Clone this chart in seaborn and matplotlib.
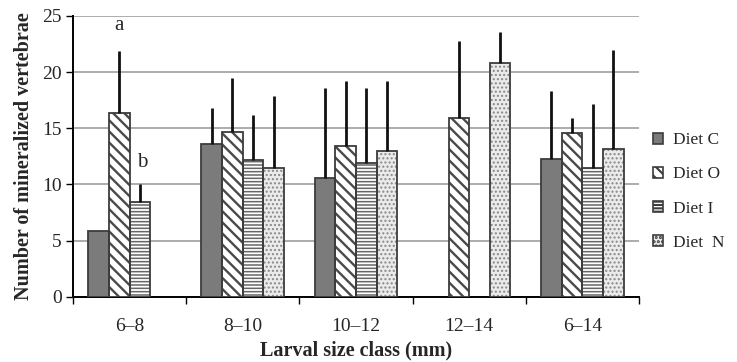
import numpy as np
import pandas as pd
import matplotlib
matplotlib.use("Agg")
import matplotlib.pyplot as plt
from matplotlib.patches import Patch, Rectangle
import seaborn as sns

# Mean number of mineralized vertebrae per larval size class and diet
size_classes = ["6\u20138", "8\u201310", "10\u201312", "12\u201314", "6\u201314"]
diets = ["Diet C", "Diet O", "Diet I", "Diet  N"]

diet_c = [5.9, 13.6, 10.6, np.nan, 12.3]
diet_o = [16.4, 14.65, 13.4, 15.9, 14.6]
diet_i = [8.4, 12.2, 11.9, np.nan, 11.5]
diet_n = [np.nan, 11.5, 13.0, 20.8, 13.2]

# Standard deviations (upper bars only)
sd_c = [0.0, 3.2, 8.0, np.nan, 6.0]
sd_o = [5.5, 4.85, 5.85, 6.9, 1.3]
sd_i = [1.6, 4.0, 6.7, np.nan, 5.7]
sd_n = [np.nan, 6.4, 6.25, 2.8, 8.75]

means = [diet_c, diet_o, diet_i, diet_n]
sds = [sd_c, sd_o, sd_i, sd_n]

rows = []
for d, m, s in zip(diets, means, sds):
    for k, cls in enumerate(size_classes):
        rows.append({"size": cls, "diet": d, "mean": m[k], "sd": s[k]})
df = pd.DataFrame(rows)

styles = {
    "Diet C": dict(face="#7b7b7b", hatch=None, hcol="#404040", hlw=1.0),
    "Diet O": dict(face="#ffffff", hatch="\\\\\\", hcol="#4a4a4a", hlw=1.7),
    "Diet I": dict(face="#ffffff", hatch="-----", hcol="#666666", hlw=1.1),
    "Diet  N": dict(face="#ebebeb", hatch="....", hcol="#888888", hlw=1.0),
}

sns.set_theme(style="white")
plt.rcParams["font.family"] = ["Liberation Serif", "DejaVu Serif"]
plt.rcParams["hatch.linewidth"] = 1.5


def set_hatch_lw(patch, lw):
    if hasattr(patch, "set_hatch_linewidth"):
        patch.set_hatch_linewidth(lw)
    else:
        patch._hatch_linewidth = lw


fig = plt.figure(figsize=(7.37, 3.62), dpi=100)
ax = fig.add_axes([0.099, 0.180, 0.768, 0.776])

group_width = 0.73
sns.barplot(data=df, x="size", y="mean", hue="diet", order=size_classes,
            hue_order=diets, errorbar=None, width=group_width, dodge=True,
            palette=["#ffffff"] * 4, legend=False, ax=ax, zorder=3)

# Restyle bars by matching each patch to its size class / diet slot
n = len(diets)
slot = group_width / n
edge = "#3c3c3c"
for p in list(ax.patches):
    h = p.get_height()
    if h == 0 or np.isnan(h):
        continue
    xc = p.get_x() + p.get_width() / 2
    cat = int(round(xc))
    j = int(round((xc - cat) / slot + (n - 1) / 2))
    st = styles[diets[j]]
    p.set_facecolor(st["face"])
    p.set_edgecolor(st["hcol"])
    p.set_linewidth(0)
    if st["hatch"]:
        p.set_hatch(st["hatch"])
        set_hatch_lw(p, st["hlw"])
    ax.add_patch(Rectangle(p.get_xy(), p.get_width(), h, fill=False,
                           edgecolor=edge, linewidth=1.3, zorder=4))
    sd = sds[j][cat]
    if sd and not np.isnan(sd):
        ax.vlines(xc, h, h + sd, color="#111111", linewidth=2.0, zorder=5)

ax.set_ylim(0, 25)
ax.set_xlim(-0.5, len(size_classes) - 0.5)
ax.set_yticks(np.arange(0, 26, 5))
ax.yaxis.grid(True, color="#a6a6a6", linewidth=1.3, zorder=0)
ax.xaxis.grid(False)
ax.set_axisbelow(True)

for s in ["top", "right"]:
    ax.spines[s].set_visible(False)
for s in ["left", "bottom"]:
    ax.spines[s].set_color("black")
    ax.spines[s].set_linewidth(1.4)

ax.set_xticks(np.arange(-0.5, len(size_classes)), minor=True)
ax.tick_params(axis="x", which="minor", length=5, width=1, color="black",
               direction="out", bottom=True)
ax.tick_params(axis="x", which="major", length=0, pad=15, labelsize=14)
ax.tick_params(axis="y", length=5, width=1, color="black", direction="out",
               left=True, labelsize=14, pad=3)

ax.set_xlabel("Larval size class (mm)", fontsize=14.5, fontweight="bold",
              labelpad=4)
ax.set_ylabel("Number of mineralized vertebrae", fontsize=14.5,
              fontweight="bold", labelpad=6)

ax.text(-0.09, 23.3, "a", ha="center", va="bottom", fontsize=15)
ax.text(0.11, 11.1, "b", ha="center", va="bottom", fontsize=15)

handles = []
for d in diets:
    st = styles[d]
    hp = Patch(facecolor=st["face"], edgecolor=edge, hatch=st["hatch"],
               linewidth=1.2)
    handles.append(hp)
leg = ax.legend(handles, diets, loc="center left", bbox_to_anchor=(1.0, 0.375),
                frameon=False, fontsize=12.5, handlelength=0.6,
                handleheight=0.6, labelspacing=1.05, handletextpad=0.55,
                borderaxespad=0.4)

fig.savefig("out.png", dpi=100)
